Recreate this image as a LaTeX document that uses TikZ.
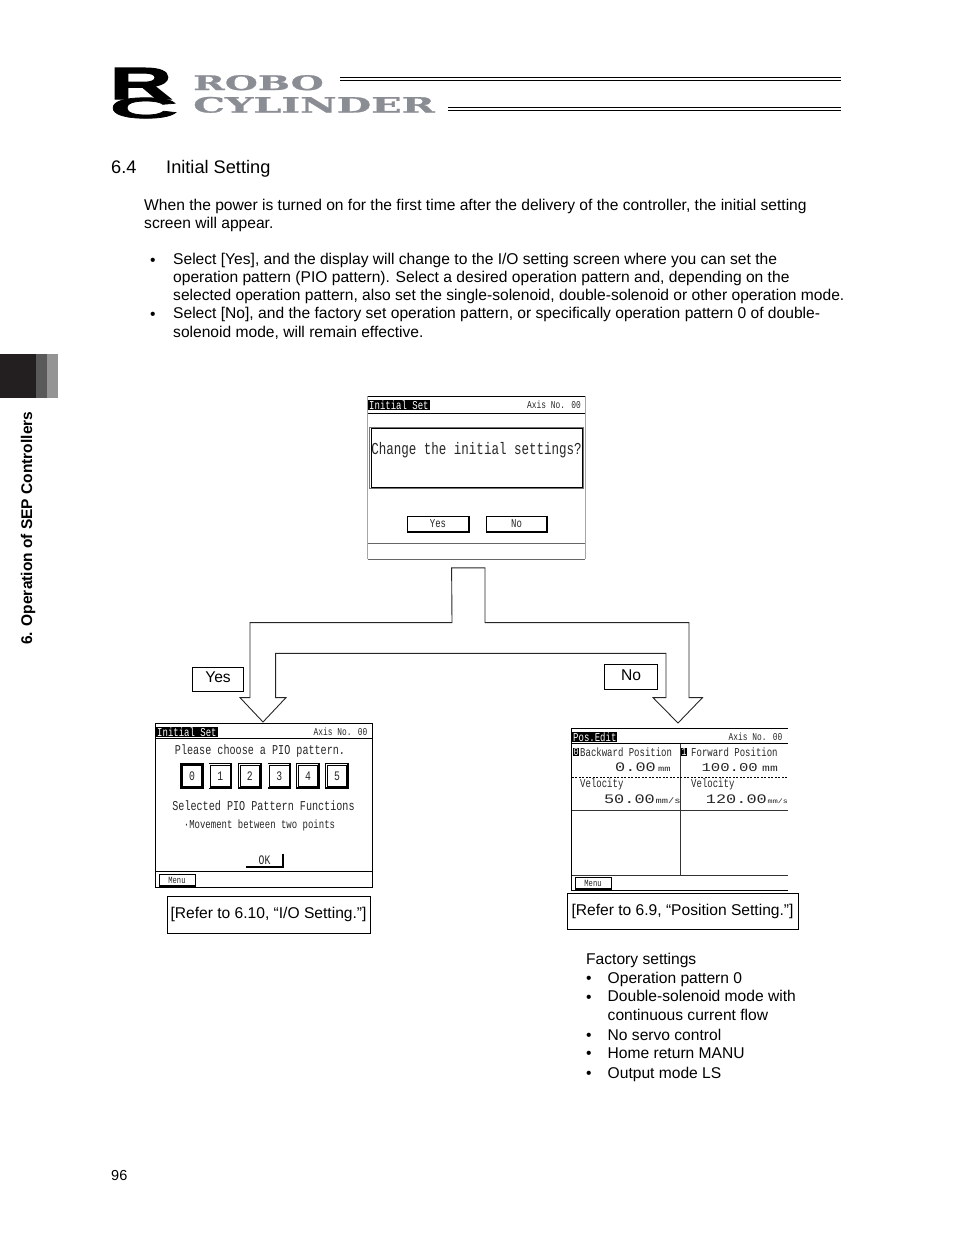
\documentclass[tikz,border=0pt]{standalone}
\usepackage{fontspec}
\setmainfont{Liberation Sans}
\newfontfamily\lcdfont[FakeStretch=0.75]{Liberation Mono}
\newfontfamily\lcdwide[FakeStretch=1.3]{Liberation Mono}
\newfontfamily\logofont[FakeStretch=1.9,FakeBold=1.2]{DejaVu Serif Bold}
\newfontfamily\logoR[FakeStretch=1.95,FakeBold=2.5]{Liberation Sans Bold}
\newfontfamily\logoC[FakeStretch=3.3,FakeBold=2.5]{Liberation Sans Bold}
\definecolor{logogray}{HTML}{8A8D93}
\definecolor{tabdark}{HTML}{231F20}
\newcommand{\px}[1]{\fontsize{#1}{#1}\selectfont}
\tikzset{
    txt/.style={anchor=base west, inner sep=0pt, align=left, font=\fontsize{15.6}{18.2}\selectfont},
    lcd/.style={inner sep=0pt, text=black!85, font=\lcdfont\px{#1}},
    lcdbig/.style={anchor=base east, inner sep=0pt, text=black!85, font=\lcdwide\px{#1}},
    title/.style={inner sep=1pt, fill=black, text=white, font=\lcdfont\px{12}},
    btn/.style={draw, line width=0.8pt, fill=white, inner sep=0pt, minimum width=#1, minimum height=16pt, font=\lcdfont\px{12}, text=black!85},
    keybtn/.style={draw, double, double distance=1.2pt, line width=0.6pt, inner sep=0pt, minimum width=21pt, minimum height=23pt, font=\lcdfont\px{13}, text=black!85},
    tag/.style={draw, line width=0.7pt, inner sep=0pt, font=\px{15.6}},
    frame/.style={draw=black, line width=1pt},
}
\begin{document}
\begin{tikzpicture}[x=1pt, y=-1pt]
    \useasboundingbox (0,0) rectangle (954,1235);
    % logo and header rules
    \node[anchor=base west, inner sep=0pt, font=\logoC\px{29}] (logoc) at (109,118) {C};
    \draw[white, line width=2pt] (108,99) .. controls (125,91) and (150,90) .. (178,96);
    \node[anchor=base west, inner sep=0pt, font=\logoR\px{45}] (logor) at (109,99) {R};
    \node[anchor=base west, inner sep=0pt, text=logogray, font=\logofont\px{20}] (robo) at (193,90) {ROBO};
    \node[anchor=base west, inner sep=0pt, text=logogray, font=\logofont\px{21}] (cyl) at (193,112.5) {CYLINDER};
    \draw[line width=1pt] (340,77.5) -- (841,77.5);
    \draw[line width=0.7pt] (340,80.7) -- (841,80.7);
    \draw[line width=0.7pt] (448,107) -- (841,107);
    \draw[line width=1pt] (448,110.2) -- (841,110.2);
    % chapter tab
    \fill[tabdark] (0,354) rectangle (36,398);
    \fill[black!65] (36,354) rectangle (47,398);
    \fill[black!42] (47,354) rectangle (58,398);
    \node[rotate=90, anchor=base west, inner sep=0pt, font=\bfseries\px{15.5}] (chap) at (32,645) {6. Operation of SEP Controllers};
    % text
    \node[txt, font=\px{18.2}] (secno) at (111,173) {6.4};
    \node[txt, font=\px{18.2}] (sec) at (166,173) {Initial Setting};
    \node[txt] (intro) at (144,228.5) {When the power is turned on for the first time after the delivery of the controller, the initial setting\\screen will appear.};
    \node[txt] (b1) at (150,265.5) {•};
    \node[txt] (t1) at (173,300.5) {Select [Yes], and the display will change to the I/O setting screen where you can set the\\operation pattern (PIO pattern). Select a desired operation pattern and, depending on the\\selected operation pattern, also set the single-solenoid, double-solenoid or other operation mode.};
    \node[txt] (b2) at (150,319) {•};
    \node[txt] (t2) at (173,337) {Select [No], and the factory set operation pattern, or specifically operation pattern 0 of double-\\solenoid mode, will remain effective.};
    % first screen
    \draw[line width=0.5pt, black!35] (367.5,396) -- (367.5,559) (585,396) -- (585,559);
    \draw[frame] (367.5,396.5) -- (585,396.5) (367.5,413.5) -- (585,413.5);
    \draw[line width=0.8pt, black!60] (367.5,543.5) -- (585,543.5) (367.5,559.5) -- (585,559.5);
    \node[title, anchor=west] (s1t) at (368,405) {Initial Set};
    \node[lcd=10.5, anchor=east] (s1a) at (581,405) {Axis No. 00};
    \draw[line width=0.8pt, black!55] (369.5,427) rectangle (583.5,488);
    \draw[line width=0.8pt] (371,428.5) rectangle (582,487);
    \node[lcd=16.7] (s1q) at (476.5,450) {Change the initial settings?};
    \foreach \n/\x/\s in {yes/438/Yes,no/516.5/No} {
        \node[btn=61pt] (s1\n) at (\x,524) {\s};
        \draw[line width=2pt] (s1\n.north east) -- (s1\n.south east) -- (s1\n.south west);
    }
    % split arrow
    \draw[line width=0.9pt, black!85] (451.6,567.8) -- (485,567.8) -- (485,622.6) -- (689,622.6) -- (689,697.6) -- (702.5,697.6) -- (678,723) -- (653,697.6) -- (666,697.6) -- (666,653.4) -- (275.6,653.4) -- (275.6,697.6) -- (286,697.6) -- (263,722) -- (240,697.6) -- (250,697.6) -- (250,622.6) -- (452,622.6) -- cycle;
    \node[tag, minimum width=51.5pt, minimum height=24pt] (yes) at (218,679) {\raisebox{3pt}{Yes}};
    \node[tag, minimum width=52.5pt, minimum height=24.5pt] (no) at (631,677) {\raisebox{3pt}{No}};
    % left screen
    \draw[frame] (155.5,723.5) rectangle (372.5,887.5);
    \draw[frame] (155.5,738.5) -- (372.5,738.5) (155.5,871) -- (372.5,871);
    \node[title, anchor=west] (s2t) at (156,732) {Initial Set};
    \node[lcd=10.5, anchor=east] (s2a) at (367.5,732) {Axis No. 00};
    \node[lcd=13.5] (s2p) at (260,751) {Please choose a PIO pattern.};
    \foreach \i/\x in {0/192,1/220.3,2/249.8,3/279.2,4/308,5/337} {
        \node[keybtn] (k\i) at (\x,775.8) {\i};
        \draw[line width=1.6pt] (k\i.north east) -- (k\i.south east) -- (k\i.south west);
    }
    \draw[line width=1.4pt] (k0.north west) rectangle (k0.south east);
    \node[lcd=13.5] (s2f) at (263.5,806) {Selected PIO Pattern Functions};
    \node[lcd=12] (s2m) at (259.5,825) {·Movement between two points};
    \node[keybtn, minimum width=37pt, minimum height=13pt] (ok) at (264.5,860.5) {OK};
    \draw[line width=1.8pt] (ok.north east) -- (ok.south east) -- (ok.south west);
    \node[btn=36pt, minimum height=11pt, font=\lcdfont\px{9.5}] (menu2) at (177,880) {Menu};
    \draw[line width=1.8pt] (menu2.north east) -- (menu2.south east) -- (menu2.south west);
    % right screen
    \draw[frame] (787.5,728.5) -- (571.8,728.5) -- (571.8,890.5) -- (787.5,890.5);
    \draw[frame] (571.8,743.5) -- (787.5,743.5);
    \draw[line width=0.8pt, black!80] (571.8,810.5) -- (787.5,810.5) (571.8,875) -- (787.5,875) (680.3,743.5) -- (680.3,875);
    \draw[line width=0.6pt, dash pattern=on 2pt off 1.5pt] (571.8,777.5) -- (787.5,777.5);
    \node[title, anchor=west] (s3t) at (572,737) {Pos.Edit};
    \node[lcd=10.5, anchor=east] (s3a) at (782.5,737) {Axis No. 00};
    \node[title, anchor=west, inner sep=0.5pt, font=\lcdfont\px{11}] (n0) at (573,752) {0};
    \node[title, anchor=west, inner sep=0.5pt, font=\lcdfont\px{11}] (n1) at (681,752) {1};
    \node[lcd=12, anchor=west] (bp) at (580,752) {Backward Position};
    \node[lcd=12, anchor=west] (fp) at (691,752) {Forward Position};
    \node[lcd=12, anchor=west] (v0) at (580,784) {Velocity};
    \node[lcd=12, anchor=west] (v1) at (691,784) {Velocity};
    \node[lcdbig=13] (p0) at (656,771) {0.00};
    \node[lcdbig=12] (p1) at (758,771) {100.00};
    \node[lcdbig=13] (s0) at (655,803) {50.00};
    \node[lcdbig=13] (s1) at (767,803) {120.00};
    \foreach \n/\x/\y/\z/\s in {um0/658/771/8/mm,um1/762/771/10/mm,us0/655.5/803/8/{mm/s},us1/767.5/803/6.5/{mm/s}} {
        \node[lcdbig=\z, anchor=base west] (\n) at (\x,\y) {\s};
    }
    \node[btn=36pt, minimum height=11pt, font=\lcdfont\px{9.5}] (menu3) at (593,883) {Menu};
    \draw[line width=1.8pt] (menu3.north east) -- (menu3.south east) -- (menu3.south west);
    % references and factory settings
    \node[tag, minimum width=203pt, minimum height=37pt] (refl) at (268.5,914.5) {[Refer to 6.10, “I/O Setting.”]};
    \node[tag, minimum width=231pt, minimum height=36pt] (refr) at (682.5,911) {\raisebox{3pt}{[Refer to 6.9, “Position Setting.”]}};
    \node[txt] (fac) at (586,964) {Factory settings};
    \foreach \n/\y/\l/\s in {f1/983/983/Operation pattern 0,f2/1002/1020/{Double-solenoid mode with\\continuous current flow},f3/1040/1040/No servo control,f4/1058.5/1058.5/Home return MANU,f5/1078/1078/Output mode LS} {
        \node[txt] (d\n) at (586,\y) {•};
        \node[txt] (\n) at (607.5,\l) {\s};
    }
    \node[txt, font=\px{14.5}] (page) at (111,1180) {96};
\end{tikzpicture}
\end{document}
